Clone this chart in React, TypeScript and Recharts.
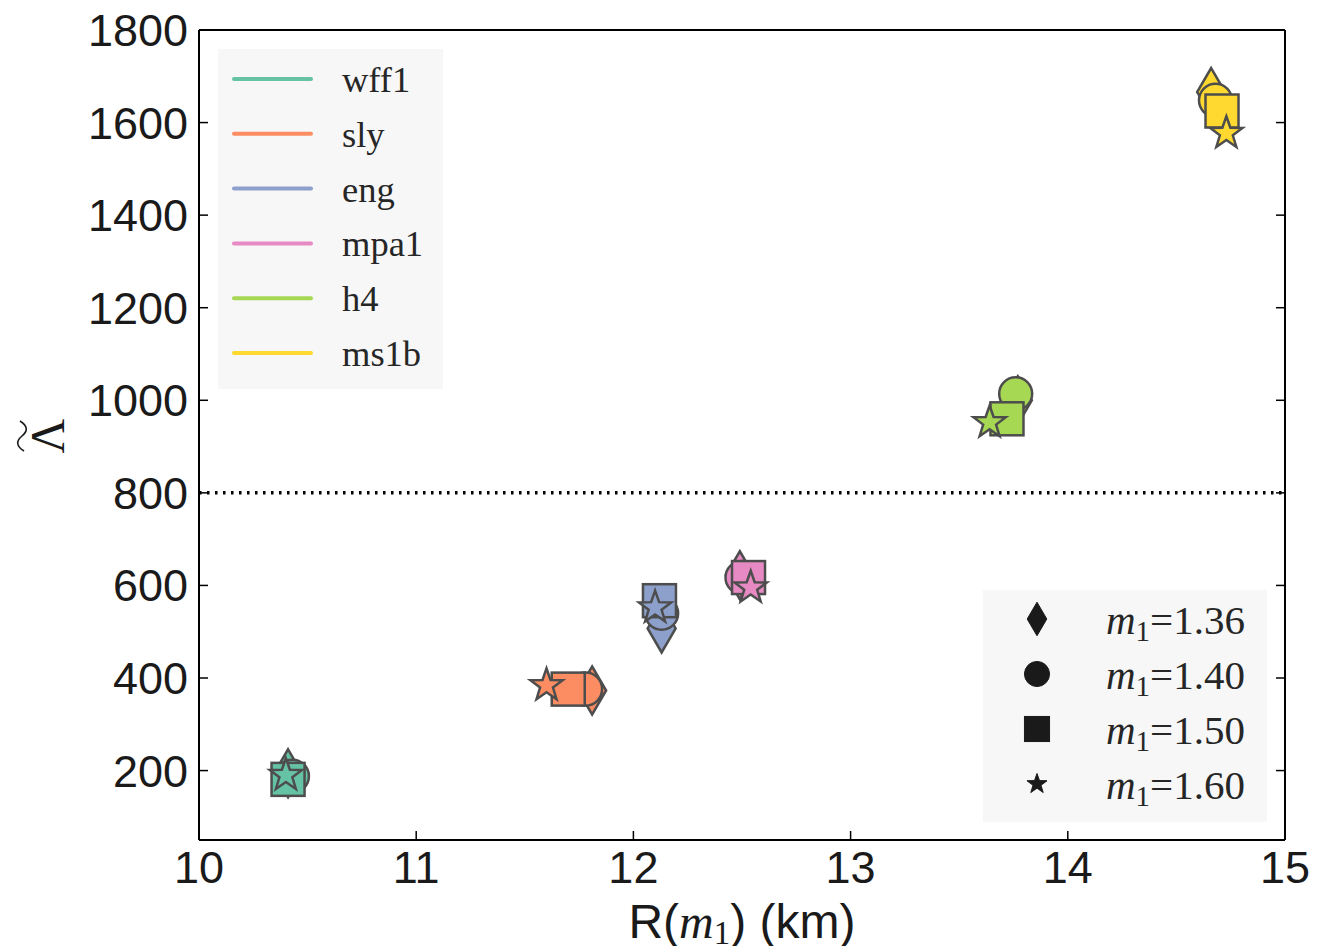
import { ScatterChart, Scatter, XAxis, YAxis, ReferenceLine } from "recharts";

const EOS = ["wff1", "sly", "eng", "mpa1", "h4", "ms1b"];
const COLORS = ["#66c2a5", "#fc8d62", "#8da0cb", "#e78ac3", "#a6d854", "#ffd92f"];
const MASSES = ["1.36", "1.40", "1.50", "1.60"];
const SHAPES = ["diamond", "circle", "square", "star"];

// radius (km) per eos, one value per mass
const RADIUS = [
  [10.41, 10.43, 10.41, 10.4],
  [11.81, 11.78, 11.7, 11.6],
  [12.13, 12.13, 12.12, 12.1],
  [12.49, 12.5, 12.53, 12.54],
  [13.77, 13.76, 13.72, 13.64],
  [14.66, 14.68, 14.71, 14.73],
];
// lambda tilde per eos, one value per mass
const LAMBDA = [
  [194, 188, 181, 190],
  [373, 376, 376, 384],
  [507, 540, 567, 552],
  [622, 617, 617, 595],
  [1000, 1014, 960, 952],
  [1666, 1648, 1625, 1577],
];

const X_TICKS = [10, 11, 12, 13, 14, 15];
const Y_TICKS = [200, 400, 600, 800, 1000, 1200, 1400, 1600, 1800];

const SANS = "'Liberation Sans', Arial, sans-serif";
const SERIF = "'Liberation Serif', 'Times New Roman', serif";
const EDGE = "#4d4d4d";

function starPath(cx: number, cy: number, R: number, r: number) {
  let d = "";
  for (let k = 0; k < 10; k++) {
    const rad = k % 2 === 0 ? R : r;
    const a = -Math.PI / 2 + (k * Math.PI) / 5;
    d += (k === 0 ? "M" : "L") + (cx + rad * Math.cos(a)).toFixed(2) + "," + (cy + rad * Math.sin(a)).toFixed(2);
  }
  return d + "Z";
}

function drawShape(shape: string, cx: number, cy: number, fill: string, stroke: string, s: number, sw: number) {
  if (shape === "diamond") {
    const h = 24 * s, w = 14 * s;
    return <path d={`M${cx},${cy - h}L${cx + w},${cy}L${cx},${cy + h}L${cx - w},${cy}Z`} fill={fill} stroke={stroke} strokeWidth={sw} />;
  }
  if (shape === "circle") return <circle cx={cx} cy={cy} r={16.5 * s} fill={fill} stroke={stroke} strokeWidth={sw} />;
  if (shape === "square") {
    const a = 16.5 * s;
    return <rect x={cx - a} y={cy - a} width={2 * a} height={2 * a} fill={fill} stroke={stroke} strokeWidth={sw} />;
  }
  return <path d={starPath(cx, cy, 17 * s, 6.8 * s)} fill={fill} stroke={stroke} strokeWidth={sw} />;
}

const Marker = (props: any) => {
  const { cx, cy, payload, fill } = props;
  if (cx == null || cy == null) return <g />;
  return drawShape(payload.shape, cx, cy, fill, EDGE, 1, 2.5);
};

const BottomTick = (props: any) => {
  const { x, y, payload } = props;
  return (
    <g>
      <line x1={x} x2={x} y1={y} y2={y - 9} stroke="#000" strokeWidth={1.5} />
      <text x={x} y={y + 43} textAnchor="middle" fontSize={45} fontFamily={SANS} fill="#1a1a1a">
        {payload.value}
      </text>
    </g>
  );
};
const TopTick = (props: any) => {
  const { x, y } = props;
  return <line x1={x} x2={x} y1={y} y2={y + 9} stroke="#000" strokeWidth={1.5} />;
};
const LeftTick = (props: any) => {
  const { x, y, payload } = props;
  return (
    <g>
      <line x1={x} x2={x + 9} y1={y} y2={y} stroke="#000" strokeWidth={1.5} />
      <text x={x - 11} y={y + 16} textAnchor="end" fontSize={45} fontFamily={SANS} fill="#1a1a1a">
        {payload.value}
      </text>
    </g>
  );
};
const RightTick = (props: any) => {
  const { x, y } = props;
  return <line x1={x} x2={x - 9} y1={y} y2={y} stroke="#000" strokeWidth={1.5} />;
};

const series = EOS.map((name, i) => ({
  name,
  color: COLORS[i],
  data: MASSES.map((m, j) => ({ r: RADIUS[i][j], lam: LAMBDA[i][j], m, shape: SHAPES[j] })),
}));

const axisLine = { stroke: "#000", strokeWidth: 2 };

export default function App() {
  return (
    <div style={{ position: "relative", width: 1330, height: 946, background: "#fff" }}>
      <style>{"body{margin:0}"}</style>
      <ScatterChart width={1330} height={946} margin={{ top: 29, right: 44, bottom: 46, left: 119 }}>
        <XAxis
          type="number"
          dataKey="r"
          domain={[10, 15]}
          ticks={X_TICKS}
          allowDataOverflow
          height={60}
          tickSize={0}
          tickMargin={0}
          tickLine={false}
          axisLine={axisLine}
          tick={<BottomTick />}
        />
        <XAxis
          xAxisId="top"
          orientation="top"
          type="number"
          domain={[10, 15]}
          ticks={X_TICKS}
          allowDataOverflow
          height={1}
          tickSize={0}
          tickMargin={0}
          tickLine={false}
          axisLine={axisLine}
          tick={<TopTick />}
        />
        <YAxis
          type="number"
          dataKey="lam"
          domain={[50, 1800]}
          ticks={Y_TICKS}
          allowDataOverflow
          width={80}
          tickSize={0}
          tickMargin={0}
          tickLine={false}
          axisLine={axisLine}
          tick={<LeftTick />}
        />
        <YAxis
          yAxisId="right"
          orientation="right"
          type="number"
          domain={[50, 1800]}
          ticks={Y_TICKS}
          allowDataOverflow
          width={1}
          tickSize={0}
          tickMargin={0}
          tickLine={false}
          axisLine={axisLine}
          tick={<RightTick />}
        />
        <ReferenceLine y={800} stroke="#000" strokeWidth={3.5} strokeDasharray="2.5 5.5" />
        {series.map((s) => (
          <Scatter key={s.name} name={s.name} data={s.data} fill={s.color} shape={Marker} isAnimationActive={false} />
        ))}
      </ScatterChart>

      <svg width={1330} height={946} style={{ position: "absolute", left: 0, top: 0, pointerEvents: "none" }}>
        {/* eos legend */}
        <rect x={218} y={49} width={225} height={340} fill="#f7f7f7" />
        {series.map((s, i) => {
          const y = 79 + i * 54.8;
          return (
            <g key={s.name}>
              <line x1={234} x2={311} y1={y} y2={y} stroke={s.color} strokeWidth={4} strokeLinecap="round" />
              <text x={342} y={y + 13} fontSize={36.5} fontFamily={SERIF} fill="#262626">
                {s.name}
              </text>
            </g>
          );
        })}

        {/* mass legend */}
        <rect x={983} y={590} width={284} height={232} fill="#f7f7f7" />
        {MASSES.map((m, j) => {
          const y = 619 + j * 55;
          const s = SHAPES[j] === "star" ? 0.62 : SHAPES[j] === "diamond" ? 0.7 : 0.76;
          return (
            <g key={m}>
              {drawShape(SHAPES[j], 1037, y, "#1a1a1a", "#1a1a1a", s, 1)}
              <text x={1106} y={y + 15} fontSize={41} fontFamily={SERIF} fill="#262626">
                <tspan fontStyle="italic">m</tspan>
                <tspan fontSize={29} dy={7}>1</tspan>
                <tspan dy={-7}>={m}</tspan>
              </text>
            </g>
          );
        })}

        {/* y label: lambda tilde */}
        <g transform="rotate(-90, 48, 436)">
          <text x={48} y={452} textAnchor="middle" fontSize={48} fontFamily={SERIF} fill="#1a1a1a">
            Λ
          </text>
          <path d="M33,412 C38,404 43,404 48,410 S58,416 63,408" fill="none" stroke="#1a1a1a" strokeWidth={1.6} />
        </g>

        {/* x label */}
        <text x={742} y={938} textAnchor="middle" fontSize={48} fontFamily={SANS} fill="#1a1a1a">
          R(
          <tspan fontFamily={SERIF} fontStyle="italic">m</tspan>
          <tspan fontFamily={SERIF} fontSize={33} dy={6}>1</tspan>
          <tspan dy={-6}>) (km)</tspan>
        </text>
      </svg>
    </div>
  );
}
